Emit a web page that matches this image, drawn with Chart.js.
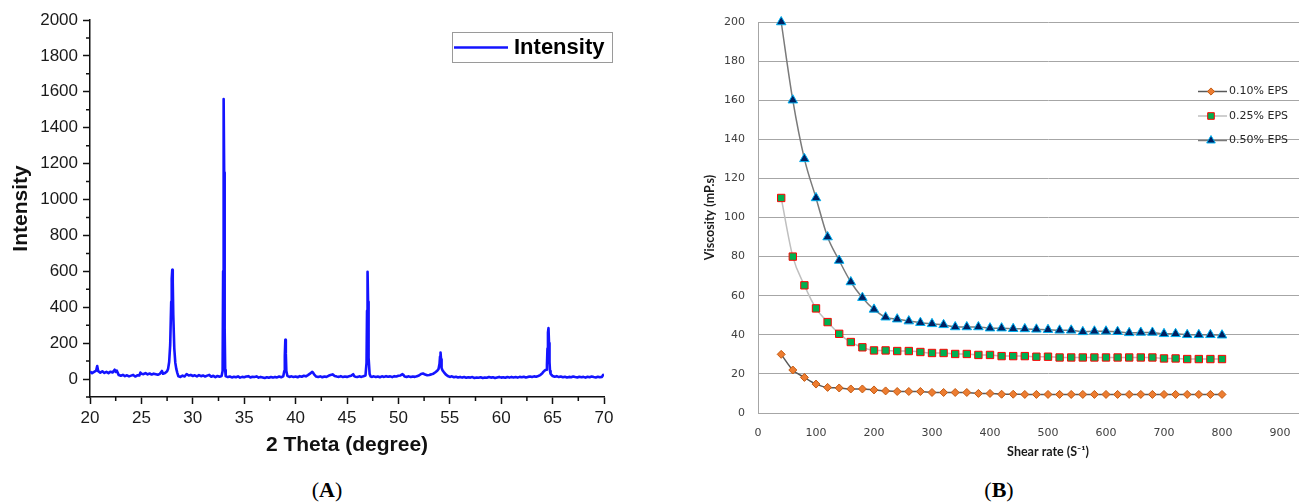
<!DOCTYPE html>
<html><head><meta charset="utf-8">
<script src="https://cdn.jsdelivr.net/npm/chart.js@4.4.1/dist/chart.umd.min.js"></script>
<style>
html,body{margin:0;padding:0;width:1299px;height:504px;overflow:hidden;background:#fff;}
#cA{position:absolute;left:0;top:0;}
#cB{position:absolute;left:650px;top:0;}
.lab{position:absolute;font-family:"Liberation Serif",serif;font-size:22px;color:#000;transform:translate(-50%,-50%);white-space:nowrap;}
</style></head><body>
<canvas id="cA" width="650" height="470"></canvas>
<canvas id="cB" width="720" height="470"></canvas>
<div class="lab" style="left:327px;top:490px">(<b>A</b>)</div>
<div class="lab" style="left:999px;top:490px">(<b>B</b>)</div>
<script>
// ---------- (A) XRD pattern ----------
const xrdLabel = 'Intensity';
const xrdPattern = [
[20.0,42],[20.2,33],[20.4,40],[20.6,47],[20.7,72],[20.8,44],[21.0,36],[21.2,43],[21.4,34],[21.6,40],[21.8,33],[22.0,41],[22.2,37],[22.4,52],[22.5,40],[22.6,47],[22.8,22],
[23.0,18],[23.2,23],[23.4,16],[23.6,21],[23.8,15],[24.0,19],[24.2,23],[24.4,14],[24.6,21],[24.8,20],[24.9,36],[25.0,30],[25.2,27],[25.4,33],[25.6,26],[25.8,31],
[26.0,25],[26.2,30],[26.4,27],[26.6,24],[26.8,29],[27.0,45],[27.1,30],[27.3,34],[27.5,44],[27.6,58],[27.7,95],[27.8,190],[27.9,430],[27.95,560],[28.0,608],[28.05,540],
[28.1,360],[28.2,170],[28.3,90],[28.4,55],[28.5,33],[28.6,15],[28.8,12],[29.0,19],[29.2,14],[29.4,28],[29.6,20],[29.8,23],[30.0,17],[30.2,21],[30.4,15],[30.6,22],
[30.8,16],[31.0,20],[31.2,14],[31.4,19],[31.6,23],[31.8,13],[32.0,18],[32.2,11],[32.4,17],[32.6,13],[32.8,17],[32.9,45],[32.95,600],[33.0,1560],[33.05,1150],[33.1,280],
[33.15,50],[33.2,16],[33.4,11],[33.6,14],[33.8,9],[34.0,13],[34.2,10],[34.4,15],[34.6,8],[34.8,12],[35.0,10],[35.2,14],[35.4,16],[35.6,9],[35.8,13],[36.0,11],
[36.2,15],[36.4,8],[36.6,12],[36.8,9],[37.0,6],[37.2,10],[37.4,7],[37.6,11],[37.8,8],[38.0,12],[38.2,9],[38.4,14],[38.6,10],[38.8,15],[38.9,45],[38.95,130],
[39.0,218],[39.05,140],[39.1,45],[39.2,18],[39.4,12],[39.6,15],[39.8,11],[40.0,14],[40.2,10],[40.4,16],[40.6,13],[40.8,18],[41.0,15],[41.2,22],[41.4,30],[41.6,40],
[41.7,36],[41.8,26],[42.0,14],[42.2,11],[42.4,15],[42.6,10],[42.8,14],[43.0,12],[43.2,18],[43.4,22],[43.6,26],[43.8,17],[44.0,14],[44.2,12],[44.4,16],[44.6,11],
[44.8,14],[45.0,12],[45.2,15],[45.4,18],[45.6,27],[45.7,16],[45.8,13],[46.0,11],[46.2,15],[46.4,12],[46.6,16],[46.8,20],[46.9,90],[46.95,380],[47.0,598],[47.05,430],
[47.1,120],[47.2,28],[47.3,14],[47.4,12],[47.6,15],[47.8,11],[48.0,14],[48.2,10],[48.4,15],[48.6,12],[48.8,16],[49.0,13],[49.2,15],[49.4,11],[49.6,16],[49.8,14],
[50.0,18],[50.2,20],[50.4,27],[50.5,22],[50.6,14],[50.8,12],[51.0,15],[51.2,11],[51.4,14],[51.6,12],[51.8,16],[52.0,20],[52.2,28],[52.4,31],[52.6,25],[52.8,21],
[53.0,23],[53.2,26],[53.4,30],[53.6,38],[53.8,48],[53.9,55],[54.0,85],[54.05,125],[54.1,148],[54.15,110],[54.2,62],[54.3,48],[54.4,40],[54.5,33],[54.6,26],[54.8,17],
[55.0,12],[55.2,15],[55.4,10],[55.6,13],[55.8,9],[56.0,12],[56.2,8],[56.4,11],[56.6,7],[56.8,10],[57.0,8],[57.2,11],[57.4,6],[57.6,9],[57.8,7],[58.0,10],
[58.2,6],[58.4,9],[58.6,7],[58.8,11],[59.0,8],[59.2,10],[59.4,6],[59.6,9],[59.8,12],[60.0,8],[60.2,10],[60.4,7],[60.6,11],[60.8,8],[61.0,12],[61.2,9],
[61.4,11],[61.6,8],[61.8,12],[62.0,10],[62.2,13],[62.4,9],[62.6,12],[62.8,14],[63.0,11],[63.2,15],[63.4,13],[63.6,17],[63.8,22],[64.0,32],[64.1,40],[64.2,46],
[64.3,50],[64.4,52],[64.45,80],[64.5,170],[64.55,260],[64.6,284],[64.65,200],[64.7,95],[64.75,45],[64.8,30],[64.9,22],[65.0,17],[65.2,13],[65.4,16],[65.6,11],[65.8,14],
[66.0,10],[66.2,13],[66.4,9],[66.6,12],[66.8,10],[67.0,14],[67.2,11],[67.4,9],[67.6,13],[67.8,10],[68.0,12],[68.2,8],[68.4,13],[68.6,10],[68.8,14],[69.0,11],
[69.2,9],[69.4,13],[69.6,10],[69.8,12],[69.9,22],[70.0,26]
];
const xrdXTicks = [20,25,30,35,40,45,50,55,60,65,70];
const xrdXMinor = [22.5,27.5,32.5,37.5,42.5,47.5,52.5,57.5,62.5,67.5];
const xrdYTicks = [0,200,400,600,800,1000,1200,1400,1600,1800,2000];
const xrdYMinor = [-100,100,300,500,700,900,1100,1300,1500,1700,1900];

// ---------- (B) Viscosity ----------
const shearRate = [40,60,80,100,120,140,160,180,200,220,240,260,280,300,320,340,360,380,400,420,440,460,480,500,520,540,560,580,600,620,640,660,680,700,720,740,760,780,800];
const seriesNames = ['0.10% EPS','0.25% EPS','0.50% EPS'];
const visc010 = [30,22,18.2,14.8,13.1,12.8,12.3,12.3,11.8,11.3,11,11,11,10.5,10.5,10.5,10.5,10,10,9.6,9.6,9.5,9.5,9.5,9.5,9.5,9.5,9.5,9.5,9.5,9.5,9.5,9.5,9.5,9.5,9.5,9.5,9.5,9.5];
const visc025 = [110,80,65.3,53.5,46.5,40.5,36.3,33.6,32,32,31.7,31.7,31.2,30.7,30.7,30.2,30.2,29.7,29.7,29.1,29.1,29.1,28.8,28.8,28.4,28.4,28.4,28.4,28.4,28.4,28.4,28.4,28.4,27.9,27.9,27.6,27.6,27.6,27.6];
const visc050 = [200,160,130,110,90,78,67,59,53,49,48,47,46.2,45.6,45.1,44,44,44,43.4,43.4,43.1,43,42.8,42.6,42.3,42.3,41.5,41.8,41.8,41.6,41,41.2,41.2,40.5,40.5,40,40,40,39.8];

const SANS = '"Liberation Sans", Arial, sans-serif';

// ----- Chart A -----
const A_W = 650, A_H = 470, A_LEFT = 90, A_TOP = 20, A_RIGHT = 604, A_BOTTOM = 397;
const minorTicksA = {
  id: 'minorTicksA',
  afterDraw(chart) {
    const {ctx, scales: {x, y}, chartArea: a} = chart;
    ctx.save();
    ctx.strokeStyle = '#111'; ctx.lineWidth = 1.5;
    ctx.beginPath();
    xrdYMinor.forEach(v => { const p = y.getPixelForValue(v); ctx.moveTo(a.left - 4, p); ctx.lineTo(a.left, p); });
    xrdXMinor.forEach(v => { const p = x.getPixelForValue(v); ctx.moveTo(p, a.bottom); ctx.lineTo(p, a.bottom + 4); });
    ctx.stroke();
    ctx.restore();
  }
};
const legendA = {
  id: 'legendA',
  afterDraw(chart) {
    const ctx = chart.ctx, ds = chart.data.datasets[0];
    ctx.save();
    ctx.strokeStyle = '#9a9a9a'; ctx.lineWidth = 1;
    ctx.strokeRect(452.5, 32.5, 160, 30);
    ctx.strokeStyle = ds.borderColor; ctx.lineWidth = 2.5;
    ctx.beginPath(); ctx.moveTo(454, 47.5); ctx.lineTo(508, 47.5); ctx.stroke();
    ctx.fillStyle = '#000'; ctx.font = 'bold 22px ' + SANS; ctx.textBaseline = 'middle'; ctx.textAlign = 'left';
    ctx.fillText(ds.label, 514, 48);
    ctx.restore();
  }
};
new Chart(document.getElementById('cA'), {
  type: 'line',
  data: { datasets: [{
    label: xrdLabel,
    data: xrdPattern.map(p => ({x: p[0], y: p[1]})),
    borderColor: '#1414ff', borderWidth: 2.6, pointRadius: 0, tension: 0,
    borderJoinStyle: 'round', fill: false
  }]},
  options: {
    responsive: false, animation: false, devicePixelRatio: 1,
    layout: { padding: { left: 0, top: A_TOP, right: A_W - A_RIGHT, bottom: 0 } },
    plugins: { legend: { display: false }, tooltip: { enabled: false } },
    scales: {
      x: {
        type: 'linear', min: 20, max: 70,
        afterBuildTicks: s => { s.ticks = xrdXTicks.map(v => ({value: v})); },
        afterFit: s => { s.height = A_H - A_BOTTOM; },
        grid: { drawOnChartArea: false, drawTicks: true, tickLength: 7, tickColor: '#111', tickWidth: 1.5 },
        border: { display: true, color: '#111', width: 1.5 },
        ticks: { padding: 4, color: '#1a1a1a', font: { family: SANS, size: 17 }, maxRotation: 0, autoSkip: false, callback: v => String(v) },
        title: { display: true, text: '2 Theta (degree)', color: '#111', font: { family: SANS, size: 21, weight: 'bold' }, padding: { top: 0, bottom: 12 } }
      },
      y: {
        type: 'linear', min: -100, max: 2000,
        afterBuildTicks: s => { s.ticks = xrdYTicks.map(v => ({value: v})); },
        afterFit: s => { s.width = A_LEFT; },
        grid: { drawOnChartArea: false, drawTicks: true, tickLength: 7, tickColor: '#111', tickWidth: 1.5 },
        border: { display: true, color: '#111', width: 1.5 },
        ticks: { padding: 5, color: '#1a1a1a', font: { family: SANS, size: 17 }, autoSkip: false, callback: v => String(v) },
        title: { display: true, text: 'Intensity', color: '#111', font: { family: SANS, size: 21, weight: 'bold' }, padding: { top: 9, bottom: 0 } }
      }
    }
  },
  plugins: [minorTicksA, legendA]
});

// ----- Chart B -----
const B_W = 720, B_H = 470, B_LEFT = 108, B_TOP = 22, B_RIGHT = 688, B_BOTTOM = 413;
const TICKFONT = '"DejaVu Sans", Verdana, sans-serif';
const TITLEFONT = 'Lato, "Open Sans", sans-serif';
const styleB = [
  { line: '#595959', shape: 'rectRot', r: 4, fill: '#ED7D31', edge: '#C55A11' },
  { line: '#bfbfbf', shape: 'rect', r: 5.2, fill: '#00B050', edge: '#FF0000' },
  { line: '#7a7a7a', shape: 'triangle', r: 5.5, fill: '#002060', edge: '#00B0F0' }
];
const valuesB = [visc010, visc025, visc050];
const legendB = {
  id: 'legendB',
  afterDraw(chart) {
    const ctx = chart.ctx;
    const rows = [91.5, 116, 140.5];
    chart.data.datasets.forEach((ds, i) => {
      const y = rows[i];
      ctx.save();
      ctx.strokeStyle = ds.borderColor; ctx.lineWidth = 1.5;
      ctx.beginPath(); ctx.moveTo(548, y); ctx.lineTo(577, y); ctx.stroke();
      ctx.fillStyle = ds.pointBackgroundColor; ctx.strokeStyle = ds.pointBorderColor; ctx.lineWidth = 1;
      Chart.helpers.drawPoint(ctx, { pointStyle: ds.pointStyle, radius: ds.pointRadius * 0.9, rotation: 0, borderWidth: 1 }, 561, y);
      ctx.fillStyle = '#262626'; ctx.font = '11px ' + TICKFONT; ctx.textBaseline = 'middle'; ctx.textAlign = 'left';
      ctx.fillText(ds.label, 579, y);
      ctx.restore();
    });
  }
};
new Chart(document.getElementById('cB'), {
  type: 'line',
  data: { datasets: valuesB.map((vals, i) => ({
    label: seriesNames[i],
    data: vals.map((v, j) => ({x: shearRate[j], y: v})),
    borderColor: styleB[i].line, borderWidth: 1.5,
    pointStyle: styleB[i].shape, pointRadius: styleB[i].r,
    pointBackgroundColor: styleB[i].fill, pointBorderColor: styleB[i].edge, pointBorderWidth: 1,
    cubicInterpolationMode: 'monotone', tension: 0.4, fill: false, clip: false
  }))},
  options: {
    responsive: false, animation: false, devicePixelRatio: 1,
    layout: { padding: { left: 0, top: B_TOP, right: B_W - B_RIGHT, bottom: 0 } },
    plugins: { legend: { display: false }, tooltip: { enabled: false } },
    scales: {
      x: {
        type: 'linear', min: 0, max: 1000,
        afterFit: s => { s.height = B_H - B_BOTTOM; },
        grid: { display: false, drawTicks: false },
        border: { display: true, color: '#a6a6a6', width: 1 },
        ticks: { stepSize: 100, padding: 14, color: '#404040', font: { family: TICKFONT, size: 11 }, maxRotation: 0, autoSkip: false, callback: v => String(v) },
        title: { display: true, text: 'Shear rate (S\u207B\u00B9)', color: '#1a1a1a', font: { family: TITLEFONT, size: 12.5, weight: 'bold' }, padding: { top: 0, bottom: 11 } }
      },
      y: {
        type: 'linear', min: 0, max: 200,
        afterFit: s => { s.width = B_LEFT; },
        grid: { color: '#a6a6a6', lineWidth: 1, drawTicks: false },
        border: { display: true, color: '#a6a6a6', width: 1 },
        ticks: { stepSize: 20, padding: 13, color: '#404040', font: { family: TICKFONT, size: 11 }, callback: v => String(v) },
        title: { display: true, text: 'Viscosity (mP.s)', color: '#1a1a1a', font: { family: TITLEFONT, size: 12.5, weight: 'bold' }, padding: { top: 52, bottom: 0 } }
      }
    }
  },
  plugins: [legendB]
});
</script>
</body></html>
